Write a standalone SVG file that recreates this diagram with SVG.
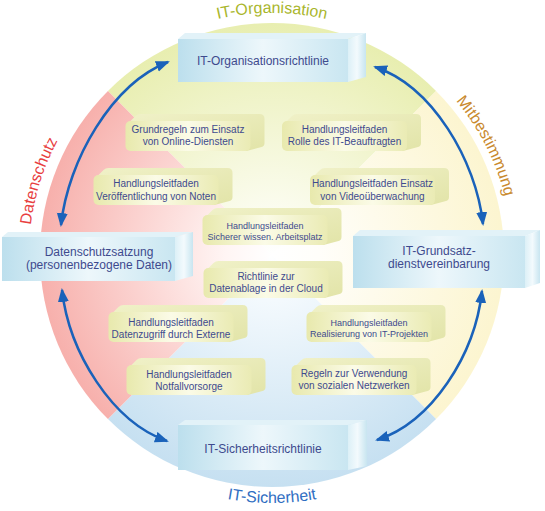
<svg xmlns="http://www.w3.org/2000/svg" xmlns:xlink="http://www.w3.org/1999/xlink" width="545" height="511" viewBox="0 0 545 511">
<defs>
<style>
.bt{font-family:"Liberation Sans",Arial,sans-serif;font-size:12px;fill:#3e4a8e;text-anchor:middle}
.st{font-family:"Liberation Sans",Arial,sans-serif;font-size:10px;fill:#3e4a8e;text-anchor:middle}
.xs{font-size:9px}
.lbl{font-family:"Liberation Sans",Arial,sans-serif;font-size:16px;text-anchor:middle}
.arr{fill:none;stroke:#1a62ba;stroke-width:2.5;marker-start:url(#ah);marker-end:url(#ah)}
.front{fill:url(#frontG)}
.top{fill:#e2f2f8}
.side{fill:url(#sideG)}
</style>
<radialGradient id="gPink" gradientUnits="userSpaceOnUse" cx="272" cy="255" r="232">
<stop offset="0" stop-color="#ffffff"/><stop offset="0.2" stop-color="#fff5f4"/><stop offset="1" stop-color="#f7b0ac"/>
</radialGradient>
<radialGradient id="gGreen" gradientUnits="userSpaceOnUse" cx="272" cy="255" r="232">
<stop offset="0" stop-color="#ffffff"/><stop offset="0.2" stop-color="#fbfcef"/><stop offset="1" stop-color="#e8eeb0"/>
</radialGradient>
<radialGradient id="gYellow" gradientUnits="userSpaceOnUse" cx="272" cy="255" r="232">
<stop offset="0" stop-color="#ffffff"/><stop offset="0.2" stop-color="#fffefa"/><stop offset="1" stop-color="#fcf5d0"/>
</radialGradient>
<radialGradient id="gBlue" gradientUnits="userSpaceOnUse" cx="272" cy="255" r="232">
<stop offset="0" stop-color="#ffffff"/><stop offset="0.2" stop-color="#f3f9fd"/><stop offset="1" stop-color="#c6e0f1"/>
</radialGradient>
<linearGradient id="frontG" x1="0" y1="0" x2="1" y2="0">
<stop offset="0" stop-color="#bcdfed"/><stop offset="0.5" stop-color="#edf7fb"/><stop offset="1" stop-color="#c9e6f1"/>
</linearGradient>
<linearGradient id="sideG" x1="0" y1="0" x2="1" y2="0">
<stop offset="0" stop-color="#dcf0f7"/><stop offset="0.5" stop-color="#f3fafd"/><stop offset="1" stop-color="#c8e5f0"/>
</linearGradient>
<linearGradient id="sFront" x1="0" y1="0" x2="1" y2="0">
<stop offset="0" stop-color="#e8e9ad"/><stop offset="0.5" stop-color="#fbfbe7"/><stop offset="1" stop-color="#eaebb4"/>
</linearGradient>
<linearGradient id="sBack" x1="0" y1="0" x2="1" y2="1">
<stop offset="0" stop-color="#f0f1c8"/><stop offset="1" stop-color="#e2e4a8"/>
</linearGradient>
<marker id="ah" markerUnits="userSpaceOnUse" markerWidth="15" markerHeight="12" refX="12" refY="5.5" orient="auto-start-reverse">
<path d="M0,0 L14,5.5 L0,11 Z" fill="#1a62ba"/>
</marker>
<g id="sbox">
<path d="M3,2 L10,-5 Q12,-7 15,-7 L134,-7 Q139,-7 139,-2 L139,22 Q139,25 136,26 L121,30 Z" fill="url(#sBack)"/>
<rect x="0" y="0" width="125" height="30" rx="5" fill="url(#sFront)"/>
</g>
</defs>

<g id="sectors">
<path d="M272,255 L107.95,90.95 A232,232 0 0 1 436.05,90.95 Z" fill="url(#gGreen)"/>
<path d="M272,255 L436.05,90.95 A232,232 0 0 1 436.05,419.05 Z" fill="url(#gYellow)"/>
<path d="M272,255 L436.05,419.05 A232,232 0 0 1 107.95,419.05 Z" fill="url(#gBlue)"/>
<path d="M272,255 L107.95,419.05 A232,232 0 0 1 107.95,90.95 Z" fill="url(#gPink)"/>
</g>

<g id="labels">
<path id="pTop" d="M62.4,134 A242,242 0 0 1 481.6,134" fill="none"/>
<path id="pLeft" d="M85.9,411.2 A243,243 0 0 1 229.8,15.7" fill="none"/>
<path id="pRight" d="M284.6,15.3 A240,240 0 0 1 473.3,385.7" fill="none"/>
<path id="pBot" d="M57.2,379 A248,248 0 0 0 486.8,379" fill="none"/>
<text class="lbl" fill="#a9b62c"><textPath href="#pTop" startOffset="50%">IT-Organisation</textPath></text>
<text class="lbl" fill="#e8403f"><textPath href="#pLeft" startOffset="48%">Datenschutz</textPath></text>
<text class="lbl" fill="#c98a2e"><textPath href="#pRight" startOffset="50%">Mitbestimmung</textPath></text>
<text class="lbl" fill="#2f6ec2"><textPath href="#pBot" startOffset="50%">IT-Sicherheit</textPath></text>
</g>

<g id="connectors">
<path class="arr" d="M61,225 C68,160 112,84 168,62"/>
<path class="arr" d="M483,224 C476,160 432,86 375,67"/>
<path class="arr" d="M62,290 C69,352 112,422 167,441"/>
<path class="arr" d="M482,291 C475,355 432,422 377,440"/>
</g>

<g id="n-org">
<polygon class="top" points="178,39 185,33 366,33 348,39"/>
<polygon class="side" points="348,39 366,33 366,77 348,82"/>
<rect class="front" x="178" y="39" width="170" height="43"/>
<text class="bt" x="263" y="64.5">IT-Organisationsrichtlinie</text>
</g>

<g id="n-ds">
<polygon class="top" points="2,237 8,232 193,232 175,237"/>
<polygon class="side" points="175,237 193,232 193,276 175,281"/>
<rect class="front" x="2" y="237" width="173" height="44"/>
<text class="bt" x="99" y="256">Datenschutzsatzung</text>
<text class="bt" x="99" y="269">(personenbezogene Daten)</text>
</g>

<g id="n-gs">
<polygon class="top" points="353,236 360,230 540,230 525,236"/>
<polygon class="side" points="525,236 540,230 540,283 525,288"/>
<rect class="front" x="353" y="236" width="172" height="52"/>
<text class="bt" x="439" y="255">IT-Grundsatz-</text>
<text class="bt" x="439" y="268">dienstvereinbarung</text>
</g>

<g id="n-sec">
<polygon class="top" points="178,425 185,420 367,420 348,425"/>
<polygon class="side" points="348,425 367,420 367,466 348,470"/>
<rect class="front" x="178" y="425" width="170" height="45"/>
<text class="bt" x="263" y="453">IT-Sicherheitsrichtlinie</text>
</g>

<g id="s1"><use href="#sbox" x="125.5" y="121"/>
<text class="st" x="188" y="133">Grundregeln zum Einsatz</text><text class="st" x="188" y="145">von Online-Diensten</text></g>
<g id="s2"><use href="#sbox" x="282" y="121"/>
<text class="st" x="344.5" y="133">Handlungsleitfaden</text><text class="st" x="344.5" y="145">Rolle des IT-Beauftragten</text></g>
<g id="s3"><use href="#sbox" x="93.5" y="175"/>
<text class="st" x="156" y="187">Handlungsleitfaden</text><text class="st" x="156" y="199.5">Veröffentlichung von Noten</text></g>
<g id="s4"><use href="#sbox" x="310" y="175"/>
<text class="st" x="372.5" y="187">Handlungsleitfaden Einsatz</text><text class="st" x="372.5" y="199.5">von Videoüberwachung</text></g>
<g id="s5"><use href="#sbox" x="202.5" y="215"/>
<text class="st xs" x="265" y="229">Handlungsleitfaden</text><text class="st xs" x="265" y="239.5">Sicherer wissen. Arbeitsplatz</text></g>
<g id="s6"><use href="#sbox" x="203.5" y="268"/>
<text class="st" x="266" y="280">Richtlinie zur</text><text class="st" x="266" y="292">Datenablage in der Cloud</text></g>
<g id="s7"><use href="#sbox" x="108.5" y="312"/>
<text class="st" x="171" y="325.5">Handlungsleitfaden</text><text class="st" x="171" y="337.5">Datenzugriff durch Externe</text></g>
<g id="s8"><use href="#sbox" x="306.5" y="312"/>
<text class="st xs" x="369" y="326">Handlungsleitfaden</text><text class="st xs" x="369" y="336.5">Realisierung von IT-Projekten</text></g>
<g id="s9"><use href="#sbox" x="126.5" y="365"/>
<text class="st" x="189" y="377.5">Handlungsleitfaden</text><text class="st" x="189" y="389.5">Notfallvorsorge</text></g>
<g id="s10"><use href="#sbox" x="291.5" y="365"/>
<text class="st" x="354" y="377">Regeln zur Verwendung</text><text class="st" x="354" y="389">von sozialen Netzwerken</text></g>
</svg>
